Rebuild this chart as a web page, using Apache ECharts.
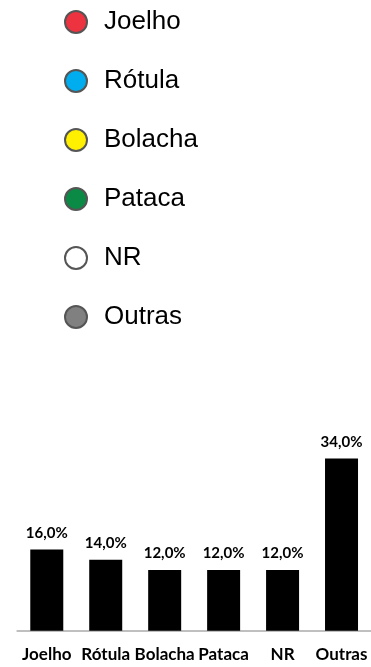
<!DOCTYPE html>
<html><head><meta charset="utf-8">
<script src="https://cdn.jsdelivr.net/npm/echarts@6/dist/echarts.min.js"></script>
<style>html,body{margin:0;padding:0;background:#fff}#c{width:371px;height:667px}</style>
</head><body><div id="c"></div>
<script>
var categories = ['Joelho', 'Rótula', 'Bolacha', 'Pataca', 'NR', 'Outras'];
var values = [16.0, 14.0, 12.0, 12.0, 12.0, 34.0];
var legendNames = ['Joelho', 'Rótula', 'Bolacha', 'Pataca', 'NR', 'Outras'];
var legendColors = ['#ee3340', '#00aeef', '#ffef00', '#0b8a45', '#ffffff', '#808080'];

var chart = echarts.init(document.getElementById('c'), null, {renderer: 'canvas'});
var series = legendNames.map(function (n, i) {
  return {type: 'scatter', name: n, data: [], itemStyle: {color: legendColors[i], opacity: 1, borderColor: '#555', borderWidth: 1}};
});
series.push({
  type: 'bar', name: 'values', data: values, barWidth: 33,
  itemStyle: {color: '#000'},
  label: {show: true, position: 'top', distance: 9, color: '#000',
    fontFamily: 'Lato', fontWeight: 'bold', fontSize: 15,
    formatter: function (p) { return p.value.toFixed(1).replace('.', ',') + '%'; }}
});
chart.setOption({
  animation: false,
  legend: {
    orient: 'vertical', left: 59, top: 4, selectedMode: false,
    itemWidth: 22, itemHeight: 22, itemGap: 33, icon: 'circle',
    itemStyle: {opacity: 1},
    data: legendNames,
    textStyle: {fontFamily: 'Liberation Sans', fontSize: 26, color: '#000', lineHeight: 22, padding: [0, 0, 0, 12]}
  },
  grid: {left: 17.3, right: -2.7, top: 428, bottom: 36.3, containLabel: false},
  xAxis: {
    type: 'category', data: categories,
    axisLine: {lineStyle: {color: '#bfbfbf', width: 2}},
    axisTick: {show: false},
    axisLabel: {interval: 0, margin: 15, color: '#000', fontFamily: 'Lato', fontWeight: 'bold', fontSize: 17}
  },
  yAxis: {type: 'value', min: 0, max: 40, show: false, splitLine: {show: false}},
  series: series
});
</script></body></html>
